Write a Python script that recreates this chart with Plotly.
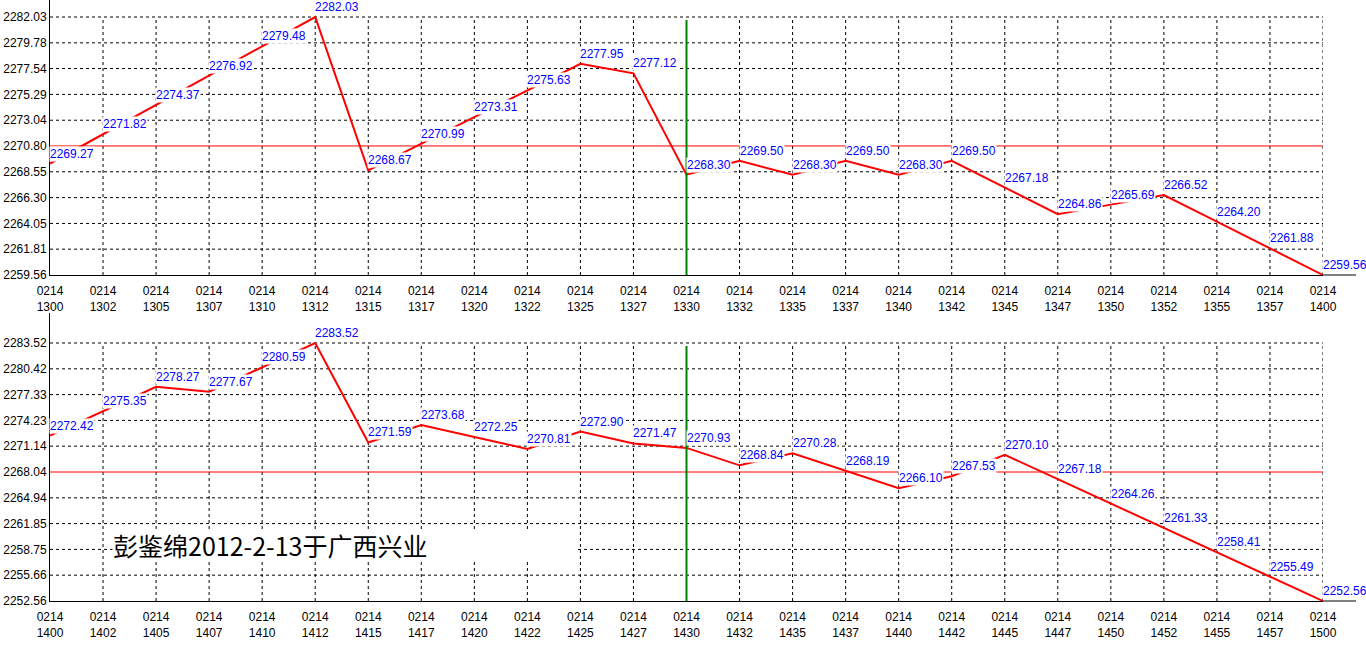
import plotly.graph_objects as go

# ---------------- data ----------------
date_label = "0214"
times_top = ["1300", "1302", "1305", "1307", "1310", "1312", "1315", "1317", "1320",
             "1322", "1325", "1327", "1330", "1332", "1335", "1337", "1340", "1342",
             "1345", "1347", "1350", "1352", "1355", "1357", "1400"]
values_top = [2269.27, 2271.82, 2274.37, 2276.92, 2279.48, 2282.03, 2268.67, 2270.99,
              2273.31, 2275.63, 2277.95, 2277.12, 2268.30, 2269.50, 2268.30, 2269.50,
              2268.30, 2269.50, 2267.18, 2264.86, 2265.69, 2266.52, 2264.20, 2261.88,
              2259.56]
yticks_top = [2259.56, 2261.81, 2264.05, 2266.30, 2268.55, 2270.80, 2273.04, 2275.29,
              2277.54, 2279.78, 2282.03]
ytext_top = ["2259.56", "2261.81", "2264.05", "2266.30", "2268.55", "2270.80", "2273.04",
             "2275.29", "2277.54", "2279.78", "2282.03"]

times_bot = ["1400", "1402", "1405", "1407", "1410", "1412", "1415", "1417", "1420",
             "1422", "1425", "1427", "1430", "1432", "1435", "1437", "1440", "1442",
             "1445", "1447", "1450", "1452", "1455", "1457", "1500"]
values_bot = [2272.42, 2275.35, 2278.27, 2277.67, 2280.59, 2283.52, 2271.59, 2273.68,
              2272.25, 2270.81, 2272.90, 2271.47, 2270.93, 2268.84, 2270.28, 2268.19,
              2266.10, 2267.53, 2270.10, 2267.18, 2264.26, 2261.33, 2258.41, 2255.49,
              2252.56]
yticks_bot = [2252.56, 2255.66, 2258.75, 2261.85, 2264.94, 2268.04, 2271.14, 2274.23,
              2277.33, 2280.42, 2283.52]
ytext_bot = ["2252.56", "2255.66", "2258.75", "2261.85", "2264.94", "2268.04", "2271.14",
             "2274.23", "2277.33", "2280.42", "2283.52"]

divider_time_top = "1330"
divider_time_bot = "1430"
mid_top = 2270.80
mid_bot = 2268.04
signature = "彭鉴绵2012-2-13于广西兴业"

# ---------------- figure ----------------
W, H = 1366, 654
ML, MR, MT, MB = 50, 43, 0, 53
plot_h = H - MT - MB

fig = go.Figure()

panels = [
    dict(times=times_top, values=values_top, yt=yticks_top, ytt=ytext_top,
         div=divider_time_top, mid=mid_top, xa="x", ya="y", pad=17 / 258,
         domain=[1 - 275 / plot_h, 1]),
    dict(times=times_bot, values=values_bot, yt=yticks_bot, ytt=ytext_bot,
         div=divider_time_bot, mid=mid_bot, xa="x2", ya="y2", pad=30 / 258,
         domain=[0, (plot_h - 313) / plot_h]),
]

shapes = []
annotations = []
font_ticks = dict(family="Liberation Sans, Arial, sans-serif", size=12, color="black")
grid_line = dict(color="black", width=1, dash="dot")

for k, p in enumerate(panels):
    n = len(p["times"])
    xs = list(range(n))
    ymin, ymax = p["yt"][0], p["yt"][-1]
    span = ymax - ymin
    fig.add_trace(go.Scatter(x=xs, y=p["values"], mode="lines",
                             line=dict(color="#ff0000", width=2),
                             xaxis=p["xa"], yaxis=p["ya"], showlegend=False,
                             hoverinfo="skip"))
    xkey = "xaxis" if k == 0 else "xaxis2"
    ykey = "yaxis" if k == 0 else "yaxis2"
    fig.update_layout(**{
        xkey: dict(domain=[0, 1], anchor=p["ya"], range=[0, n - 1],
                   tickmode="array", tickvals=xs,
                   ticktext=[f"{date_label}<br>{t}" for t in p["times"]],
                   showgrid=False, zeroline=False, showline=True,
                   linecolor="black", linewidth=1, ticks="outside", ticklen=5,
                   tickcolor="rgba(0,0,0,0)", tickfont=font_ticks, fixedrange=True),
        ykey: dict(domain=p["domain"], anchor=p["xa"],
                   range=[ymin, ymax + p["pad"] * span],
                   tickmode="array", tickvals=p["yt"], ticktext=p["ytt"],
                   showgrid=False, zeroline=False, showline=True,
                   linecolor="black", linewidth=1,
                   ticks="", tickfont=font_ticks, fixedrange=True),
    })
    # horizontal dotted gridlines (skip the red mid line)
    for yv in p["yt"][1:]:
        if abs(yv - p["mid"]) < 1e-6:
            continue
        shapes.append(dict(type="line", xref=p["xa"], yref=p["ya"], x0=0, x1=n - 1,
                           y0=yv, y1=yv, layer="below", line=grid_line))
    # vertical dotted gridlines
    for i in xs[1:]:
        shapes.append(dict(type="line", xref=p["xa"], yref=p["ya"], x0=i, x1=i,
                           y0=ymin, y1=ymax, layer="below", line=grid_line))
    # red mid line
    shapes.append(dict(type="line", xref=p["xa"], yref=p["ya"], x0=0, x1=n - 1,
                       y0=p["mid"], y1=p["mid"], layer="below",
                       line=dict(color="#ff0000", width=1)))
    # green divider
    di = p["times"].index(p["div"])
    shapes.append(dict(type="line", xref=p["xa"], yref=p["ya"], x0=di, x1=di,
                       y0=ymin, y1=ymax - 0.012 * span, layer="above",
                       line=dict(color="#008000", width=2)))
    # x axis extension
    shapes.append(dict(type="line", xref="paper", yref=f"{p['ya']} domain",
                       x0=1, x1=1 + 33 / (W - ML - MR), y0=0, y1=0,
                       line=dict(color="black", width=1)))
    # value labels
    for i, v in zip(xs, p["values"]):
        annotations.append(dict(x=i, y=v, xref=p["xa"], yref=p["ya"],
                                text=f"{v:.2f}", showarrow=False,
                                xanchor="left", yanchor="bottom",
                                xshift=-1, yshift=2, borderpad=0,
                                bgcolor="white",
                                font=dict(family="Liberation Sans, Arial, sans-serif",
                                          size=12, color="#0000ff")))

# signature text in lower panel
annotations.append(dict(x=(112 - ML) / (W - ML - MR), y=(H - MB - 545) / plot_h,
                        xref="paper", yref="paper", text=signature, showarrow=False,
                        xanchor="left", yanchor="middle", align="left",
                        width=464, height=30, bgcolor="white", borderpad=0,
                        font=dict(family="Noto Sans CJK SC", size=25, color="black")))

fig.update_layout(width=W, height=H, margin=dict(l=ML, r=MR, t=MT, b=MB),
                  paper_bgcolor="white", plot_bgcolor="white",
                  shapes=shapes, annotations=annotations, showlegend=False)

fig.write_html("out.html", config={"displayModeBar": False},
               post_script="document.body.style.margin='0';"
                           "document.body.style.overflow='hidden';")
